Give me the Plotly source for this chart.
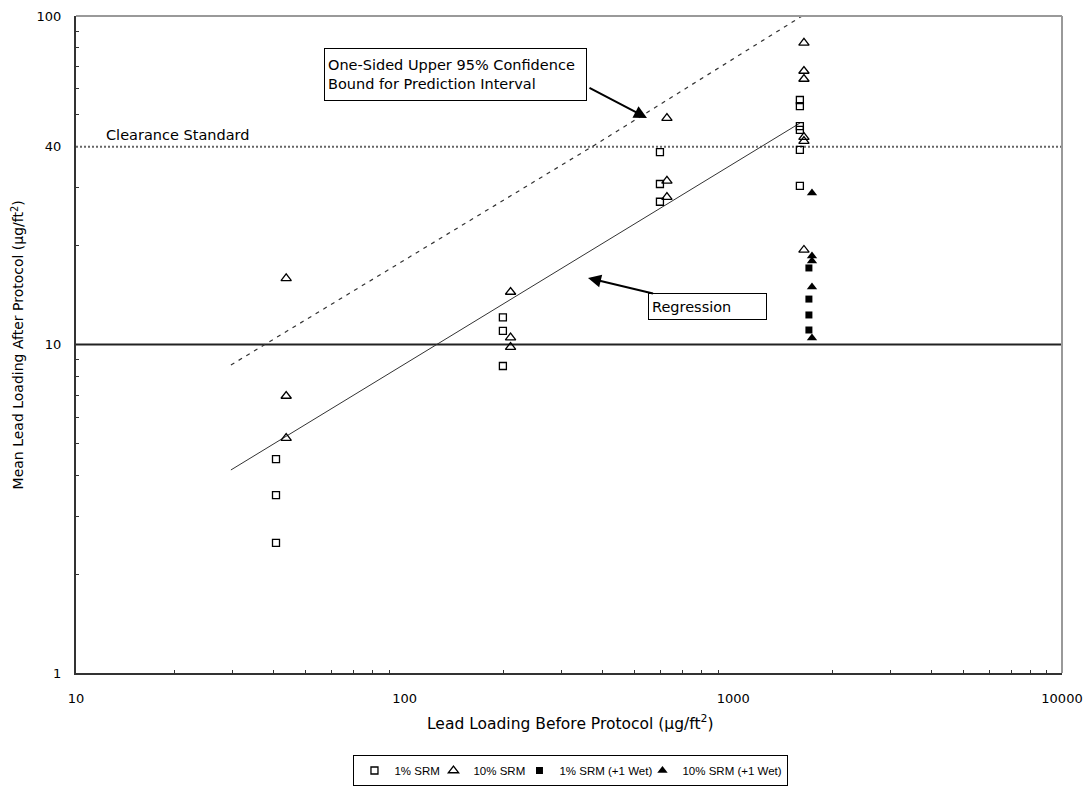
import plotly.graph_objects as go

# ---------------- data ----------------
srm1_x = [40.6, 40.6, 40.6, 199, 199, 199, 598, 598, 598, 1594, 1594, 1594, 1594, 1594, 1594]
srm1_y = [4.48, 3.48, 2.49, 12.1, 11.0, 8.6, 38.5, 30.8, 27.2, 55.5, 53.2, 46.2, 45.0, 39.1, 30.4]

srm10_x = [43.6, 43.6, 43.6, 210, 210, 210, 628, 628, 628, 1640, 1640, 1640, 1640, 1640, 1640]
srm10_y = [15.9, 6.97, 5.19, 14.45, 10.5, 9.82, 48.9, 31.5, 28.1, 82.8, 68.0, 64.3, 42.8, 41.6, 19.4]

srm1_wet_x = [1698, 1698, 1698, 1698]
srm1_wet_y = [17.1, 13.75, 12.3, 11.07]

srm10_wet_x = [1735, 1735, 1735, 1735, 1735]
srm10_wet_y = [28.9, 18.6, 17.96, 14.96, 10.47]

regression_x = [29.6, 1594]
regression_y = [4.15, 47.2]

upper_bound_x = [29.6, 379, 1620]
upper_bound_y = [8.66, 40.5, 100]

reference_level = 10
clearance_standard = 40

x_tick_vals = [10, 100, 1000, 10000]
x_tick_text = ["10", "100", "1000", "10000"]
y_tick_vals = [1, 10, 40, 100]
y_tick_text = ["1", "10", "40", "100"]

legend_names = ["1% SRM", "10% SRM", "1% SRM (+1 Wet)", "10% SRM (+1 Wet)"]

# ---------------- figure ----------------
FONT = "DejaVu Sans, sans-serif"
LFONT = "Liberation Sans, Arial, sans-serif"
fig = go.Figure()

# reference lines
fig.add_trace(go.Scatter(x=[10, 10000], y=[reference_level, reference_level], mode="lines",
                         line=dict(color="#222", width=2), showlegend=False, hoverinfo="skip"))
fig.add_trace(go.Scatter(x=[10, 10000], y=[clearance_standard, clearance_standard], mode="lines",
                         line=dict(color="#666", width=2, dash="2px,2px"), showlegend=False, hoverinfo="skip"))

# regression and upper bound
fig.add_trace(go.Scatter(x=regression_x, y=regression_y, mode="lines",
                         line=dict(color="#333", width=1), showlegend=False, hoverinfo="skip"))
fig.add_trace(go.Scatter(x=upper_bound_x, y=upper_bound_y, mode="lines",
                         line=dict(color="#333", width=1.2, dash="4px,5px"), showlegend=False, hoverinfo="skip"))

# data series
fig.add_trace(go.Scatter(x=srm1_x, y=srm1_y, mode="markers", name=legend_names[0], legendwidth=34,
                         marker=dict(symbol="square-open", size=7, color="black", line=dict(width=1.3))))
fig.add_trace(go.Scatter(x=srm10_x, y=srm10_y, mode="markers", name=legend_names[1], legendwidth=41,
                         marker=dict(symbol="triangle-up-open", size=9, color="black", line=dict(width=1.3))))
fig.add_trace(go.Scatter(x=srm1_wet_x, y=srm1_wet_y, mode="markers", name=legend_names[2], legendwidth=78,
                         marker=dict(symbol="square", size=7, color="black")))
fig.add_trace(go.Scatter(x=srm10_wet_x, y=srm10_wet_y, mode="markers", name=legend_names[3],
                         marker=dict(symbol="triangle-up", size=9, color="black")))

x_minor = [v * m for m in (10, 100, 1000) for v in range(2, 10)]
y_minor = [v * m for m in (1, 10) for v in range(2, 10) if v * m != 40]

fig.update_layout(
    width=1086, height=789,
    margin=dict(l=76, r=24, t=16, b=116, autoexpand=False),
    paper_bgcolor="white", plot_bgcolor="white",
    font=dict(family=FONT, size=13, color="black"),
    showlegend=True,
    legend=dict(orientation="h", x=0.502, xanchor="center", y=-0.1248, yanchor="top",
                bordercolor="black", borderwidth=1, font=dict(size=11.5, family=LFONT),
                itemwidth=30, tracegroupgap=0, itemclick=False),
    xaxis=dict(type="log", range=[1, 4], showgrid=False, zeroline=False,
               showline=True, linecolor="#333", linewidth=2,
               tickmode="array", tickvals=x_tick_vals, ticktext=x_tick_text, ticks="",
               ticklabelstandoff=12, tickfont=dict(size=13),
               minor=dict(tickmode="array", tickvals=x_minor, ticks="inside", ticklen=3,
                          tickcolor="#333", tickwidth=1, showgrid=False)),
    yaxis=dict(type="log", range=[0, 2], showgrid=False, zeroline=False,
               showline=True, linecolor="#333", linewidth=2,
               tickmode="array", tickvals=y_tick_vals, ticktext=y_tick_text, ticks="",
               ticklabelstandoff=10, tickfont=dict(size=13),
               minor=dict(tickmode="array", tickvals=y_minor, ticks="inside", ticklen=3,
                          tickcolor="#333", tickwidth=1, showgrid=False)),
)

# top / right gray frame
fig.add_shape(type="line", xref="paper", yref="paper", x0=0, x1=1, y0=1, y1=1,
              line=dict(color="#999", width=2))
fig.add_shape(type="line", xref="paper", yref="paper", x0=1, x1=1, y0=0, y1=1,
              line=dict(color="#999", width=2))

# axis titles
fig.add_annotation(xref="paper", yref="paper", x=0.501, y=-0.0746, xanchor="center", yanchor="middle",
                   text="Lead Loading Before Protocol (µg/ft<sup>2</sup>)", showarrow=False,
                   font=dict(size=15.5))
fig.add_annotation(xref="paper", yref="paper", x=-0.0588, y=0.4986, xanchor="center", yanchor="middle",
                   text="Mean Lead Loading After Protocol (µg/ft<sup>2</sup>)", showarrow=False,
                   textangle=-90, font=dict(size=14))

# clearance standard label
fig.add_annotation(xref="paper", yref="paper", x=0.0284, y=0.8189, xanchor="left", yanchor="middle",
                   text="Clearance Standard", showarrow=False, font=dict(size=14.5))

# boxed labels
fig.add_annotation(xref="paper", yref="paper", x=0.3849, y=0.911, xanchor="center", yanchor="middle",
                   text="One-Sided Upper 95% Confidence<br>Bound for Prediction Interval",
                   showarrow=False, align="left", width=255, height=45, borderpad=3,
                   bordercolor="black", borderwidth=1, bgcolor="white", font=dict(size=14.5))
fig.add_annotation(xref="paper", yref="paper", x=0.5791, y=0.8447, text="", showarrow=True,
                   axref="pixel", ayref="pixel", ax=-59, ay=-31,
                   arrowhead=2, arrowsize=1.3, arrowwidth=2, arrowcolor="black")

fig.add_annotation(xref="paper", yref="paper", x=0.5193, y=0.6012, xanchor="center", yanchor="middle",
                   text="Regression", showarrow=True, axref="pixel", ayref="pixel", ax=119.5, ay=28.5,
                   arrowhead=2, arrowsize=1.3, arrowwidth=2, arrowcolor="black",
                   align="left", width=111, height=19, borderpad=3,
                   bordercolor="black", borderwidth=1, bgcolor="white", font=dict(size=14.5))

fig.write_html("out.html")
